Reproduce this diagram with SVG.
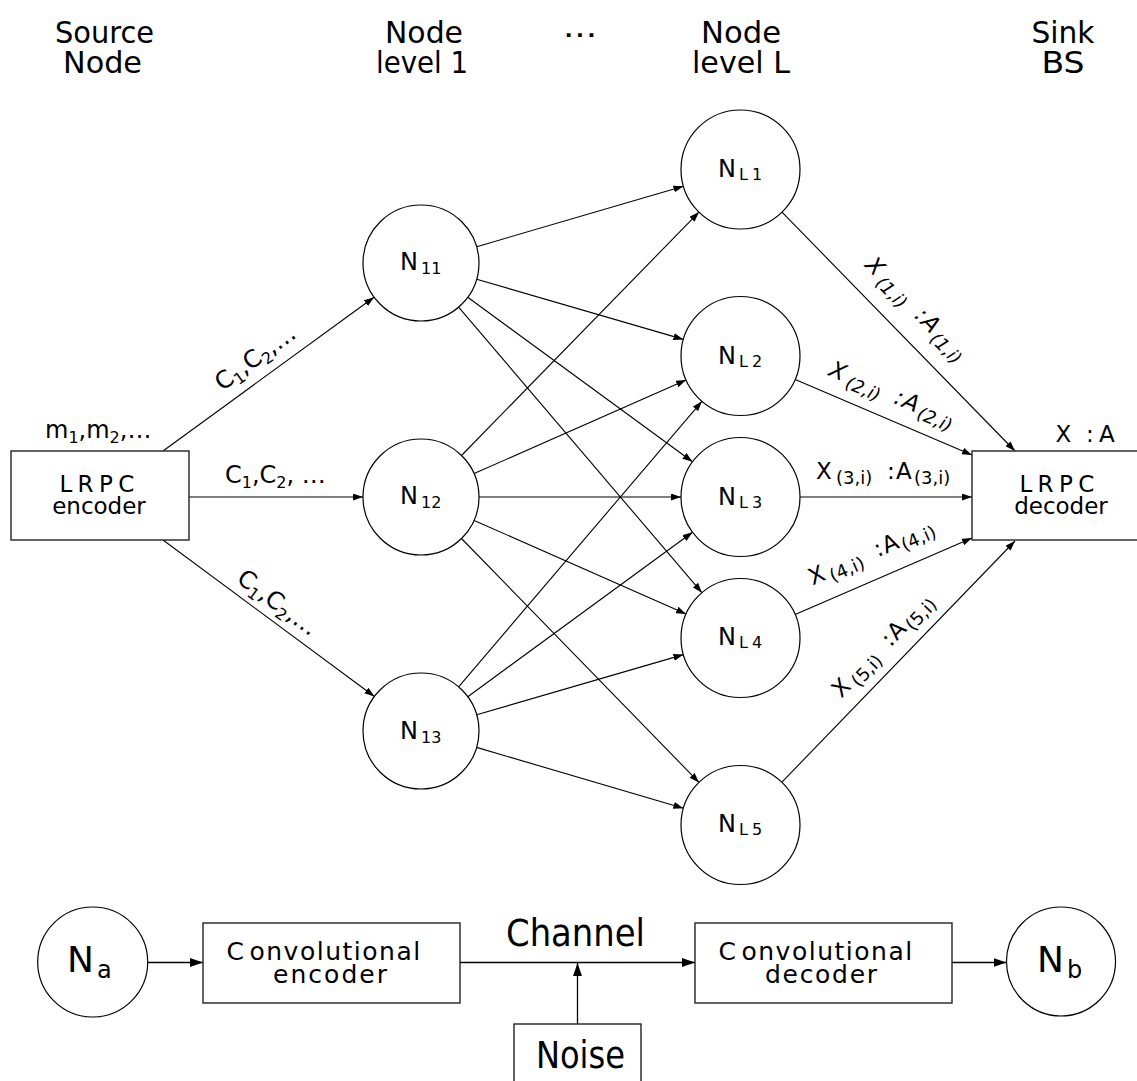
<svg xmlns="http://www.w3.org/2000/svg" width="1137" height="1081" viewBox="0 0 1137 1081">
<style>
.hd{font-family:"DejaVu Sans Condensed","DejaVu Sans",sans-serif;font-stretch:condensed;font-size:31px;fill:#000}
.big{font-family:"DejaVu Sans Condensed","DejaVu Sans",sans-serif;font-stretch:condensed;font-size:37px;fill:#000}
.t{font-family:"DejaVu Sans",sans-serif;font-size:24px;fill:#000}
.t23{font-family:"DejaVu Sans",sans-serif;font-size:23px;fill:#000}
.cv{font-family:"DejaVu Sans",sans-serif;font-size:25px;fill:#000}
.s{font-size:16px}
.sub{font-size:18px}
.it{font-style:italic}
.node{fill:#fff;stroke:#000;stroke-width:1.2}
.box{fill:#fff;stroke:#222;stroke-width:1.4}
.e{stroke:#000;stroke-width:1.1;fill:none;marker-end:url(#ah)}
.eb{stroke:#000;stroke-width:1.3;fill:none;marker-end:url(#ahb)}
</style>
<defs>
<marker id="ah" viewBox="0 0 10 7" refX="10" refY="3.5" markerWidth="10" markerHeight="7" markerUnits="userSpaceOnUse" orient="auto"><path d="M0,0L10,3.5L0,7z" fill="#000"/></marker>
<marker id="ahb" viewBox="0 0 13 9" refX="13" refY="4.5" markerWidth="13" markerHeight="9" markerUnits="userSpaceOnUse" orient="auto"><path d="M0,0L13,4.5L0,9z" fill="#000"/></marker>
</defs>
<rect width="1137" height="1081" fill="#fff"/>

<g id="headers">
<text class="hd" x="104.5" y="43" text-anchor="middle" textLength="99" lengthAdjust="spacingAndGlyphs">Source</text>
<text class="hd" x="102.5" y="73" text-anchor="middle" textLength="79" lengthAdjust="spacingAndGlyphs">Node</text>
<text class="hd" x="424" y="43" text-anchor="middle" textLength="78" lengthAdjust="spacingAndGlyphs">Node</text>
<text class="hd" x="422" y="73" text-anchor="middle" textLength="92" lengthAdjust="spacingAndGlyphs">level 1</text>
<text class="hd" x="580" y="37" text-anchor="middle" textLength="34" lengthAdjust="spacingAndGlyphs">...</text>
<text class="hd" x="741" y="43" text-anchor="middle" textLength="80" lengthAdjust="spacingAndGlyphs">Node</text>
<text class="hd" x="741" y="73" text-anchor="middle" textLength="98" lengthAdjust="spacingAndGlyphs">level L</text>
<text class="hd" x="1063" y="43" text-anchor="middle" textLength="63" lengthAdjust="spacingAndGlyphs">Sink</text>
<text class="hd" x="1063" y="73" text-anchor="middle" textLength="43" lengthAdjust="spacingAndGlyphs">BS</text>
</g>

<g id="connectors">
<line class="e" x1="163" y1="451" x2="374" y2="297.2"/>
<line class="e" x1="189" y1="497" x2="363" y2="497"/>
<line class="e" x1="163" y1="540" x2="374.4" y2="696.5"/>
<line class="e" x1="476.7" y1="246.7" x2="683.4" y2="186.2"/>
<line class="e" x1="476.7" y1="279.2" x2="683.4" y2="339.4"/>
<line class="e" x1="467.8" y1="297.3" x2="692.5" y2="461.8"/>
<line class="e" x1="458.6" y1="307.1" x2="701.9" y2="592.7"/>
<line class="e" x1="461.5" y1="455.5" x2="699" y2="212.1"/>
<line class="e" x1="474.1" y1="473.6" x2="686.1" y2="380"/>
<line class="e" x1="479" y1="497" x2="681" y2="497"/>
<line class="e" x1="474.1" y1="520.4" x2="686.1" y2="614"/>
<line class="e" x1="461.5" y1="538.5" x2="699" y2="782.4"/>
<line class="e" x1="458.6" y1="686.9" x2="701.9" y2="401.3"/>
<line class="e" x1="467.8" y1="696.7" x2="692.5" y2="532.2"/>
<line class="e" x1="476.7" y1="714.8" x2="683.4" y2="654.6"/>
<line class="e" x1="476.6" y1="747.4" x2="683.4" y2="808.2"/>
<line class="e" x1="782" y1="212.1" x2="1015" y2="451"/>
<line class="e" x1="795.2" y1="379.4" x2="972" y2="455"/>
<line class="e" x1="800" y1="497" x2="972" y2="497"/>
<line class="e" x1="795.1" y1="614.4" x2="972" y2="538"/>
<line class="e" x1="781.9" y1="782.2" x2="1015" y2="541"/>
<line class="eb" x1="148" y1="962.5" x2="203" y2="962.5"/>
<line class="eb" x1="460" y1="962.5" x2="695" y2="962.5"/>
<line class="eb" x1="577.5" y1="1024" x2="577.5" y2="963"/>
<line class="eb" x1="952" y1="962.5" x2="1006.5" y2="962.5"/>
</g>

<g id="edge-labels">
<text class="t" x="45" y="438">m<tspan class="s" dy="5">1</tspan><tspan dy="-5">,m</tspan><tspan class="s" dy="5">2</tspan><tspan dy="-5">,…</tspan></text>
<g transform="translate(260,364) rotate(-36)"><text class="t" x="0" y="0" text-anchor="middle">C<tspan class="s" dy="5">1</tspan><tspan dy="-5">,C</tspan><tspan class="s" dy="5">2</tspan><tspan dy="-5">,…</tspan></text></g>
<text class="t" x="225" y="483">C<tspan class="s" dy="5">1</tspan><tspan dy="-5">,C</tspan><tspan class="s" dy="5">2</tspan><tspan dy="-5">, …</tspan></text>
<g transform="translate(273,609) rotate(36.5)"><text class="t" x="0" y="0" text-anchor="middle">C<tspan class="s" dy="5">1</tspan><tspan dy="-5">,C</tspan><tspan class="s" dy="5">2</tspan><tspan dy="-5">,…</tspan></text></g>

<g transform="translate(864,266) rotate(45.7)"><text class="t23 it"><tspan x="0" y="0">X</tspan><tspan class="sub" x="20" y="5">(1,i)</tspan><tspan x="71" y="0">:</tspan><tspan x="80" y="0">A</tspan><tspan class="sub" x="98" y="5">(1,i)</tspan></text></g>
<g transform="translate(827.5,375) rotate(23.1)"><text class="t23 it"><tspan x="0" y="0">X</tspan><tspan class="sub" x="20" y="5">(2,i)</tspan><tspan x="71" y="0">:</tspan><tspan x="80" y="0">A</tspan><tspan class="sub" x="98" y="5">(2,i)</tspan></text></g>
<g transform="translate(816,479)"><text class="t23"><tspan x="0" y="0">X</tspan><tspan class="sub" x="20" y="5">(3,i)</tspan><tspan x="71" y="0">:</tspan><tspan x="80" y="0">A</tspan><tspan class="sub" x="98" y="5">(3,i)</tspan></text></g>
<g transform="translate(812.5,585.5) rotate(-23.4)"><text class="t23"><tspan x="0" y="0">X</tspan><tspan class="sub" x="20" y="5">(4,i)</tspan><tspan x="71" y="0">:</tspan><tspan x="80" y="0">A</tspan><tspan class="sub" x="98" y="5">(4,i)</tspan></text></g>
<g transform="translate(841.3,698.8) rotate(-46)"><text class="t23"><tspan x="0" y="0">X</tspan><tspan class="sub" x="20" y="5">(5,i)</tspan><tspan x="71" y="0">:</tspan><tspan x="80" y="0">A</tspan><tspan class="sub" x="98" y="5">(5,i)</tspan></text></g>
<text class="t23"><tspan x="1055.5" y="442">X</tspan><tspan x="1086" y="442">:</tspan><tspan x="1099" y="442">A</tspan></text>
<text class="big" x="575.5" y="946" text-anchor="middle" textLength="139" lengthAdjust="spacingAndGlyphs">Channel</text>
</g>

<g id="lrpc-encoder">
<rect class="box" x="11" y="451" width="178" height="89"/>
<text class="t23" x="59.4" y="491.7" letter-spacing="5.4">LRPC</text>
<text class="t23" x="99" y="514" text-anchor="middle">encoder</text>
</g>
<g id="lrpc-decoder">
<rect class="box" x="972" y="451" width="180" height="89"/>
<text class="t23" x="1019.4" y="491.7" letter-spacing="5.4">LRPC</text>
<text class="t23" x="1061" y="514" text-anchor="middle">decoder</text>
</g>

<g id="N11"><circle class="node" cx="421" cy="263" r="58"/><text class="t" x="400" y="270">N</text><text class="t s" x="421" y="274">11</text></g>
<g id="N12"><circle class="node" cx="421" cy="497" r="58"/><text class="t" x="400" y="504.3">N</text><text class="t s" x="421" y="508">12</text></g>
<g id="N13"><circle class="node" cx="421" cy="731" r="58"/><text class="t" x="400" y="739">N</text><text class="t s" x="421" y="742.5">13</text></g>

<g id="NL1"><circle class="node" cx="740.5" cy="169.5" r="59.5"/><text class="t" x="718" y="177.3">N</text><text class="t s" x="739" y="180">L<tspan dx="4">1</tspan></text></g>
<g id="NL2"><circle class="node" cx="740.5" cy="356" r="59.5"/><text class="t" x="718" y="364">N</text><text class="t s" x="739" y="367">L<tspan dx="4">2</tspan></text></g>
<g id="NL3"><circle class="node" cx="740.5" cy="497" r="59.5"/><text class="t" x="718" y="505">N</text><text class="t s" x="739" y="508">L<tspan dx="4">3</tspan></text></g>
<g id="NL4"><circle class="node" cx="740.5" cy="638" r="59.5"/><text class="t" x="718" y="645">N</text><text class="t s" x="739" y="648">L<tspan dx="4">4</tspan></text></g>
<g id="NL5"><circle class="node" cx="740.5" cy="825" r="59.5"/><text class="t" x="718" y="832">N</text><text class="t s" x="739" y="835">L<tspan dx="4">5</tspan></text></g>

<g id="Na"><circle class="node" cx="92.7" cy="962" r="55"/><text class="t" style="font-size:36px" x="67" y="972">N</text><text class="t" x="97" y="978">a</text></g>
<g id="conv-encoder">
<rect class="box" x="203" y="923" width="257" height="80"/>
<text class="cv" x="226.5" y="960" letter-spacing="1.5">C<tspan dx="4">onvolutional</tspan></text>
<text class="cv" x="330" y="983.3" text-anchor="middle" textLength="114" lengthAdjust="spacing">encoder</text>
</g>
<g id="conv-decoder">
<rect class="box" x="695" y="923" width="257" height="80"/>
<text class="cv" x="718.5" y="960" letter-spacing="1.5">C<tspan dx="4">onvolutional</tspan></text>
<text class="cv" x="821" y="983.3" text-anchor="middle" textLength="112" lengthAdjust="spacing">decoder</text>
</g>
<g id="Nb"><circle class="node" cx="1061" cy="961.5" r="54.5"/><text class="t" style="font-size:36px" x="1037" y="972">N</text><text class="t" x="1067" y="978">b</text></g>
<g id="noise">
<rect class="box" x="514" y="1024" width="127" height="80"/>
<text class="big" x="580.5" y="1068" text-anchor="middle" textLength="89" lengthAdjust="spacingAndGlyphs">Noise</text>
</g>
</svg>
